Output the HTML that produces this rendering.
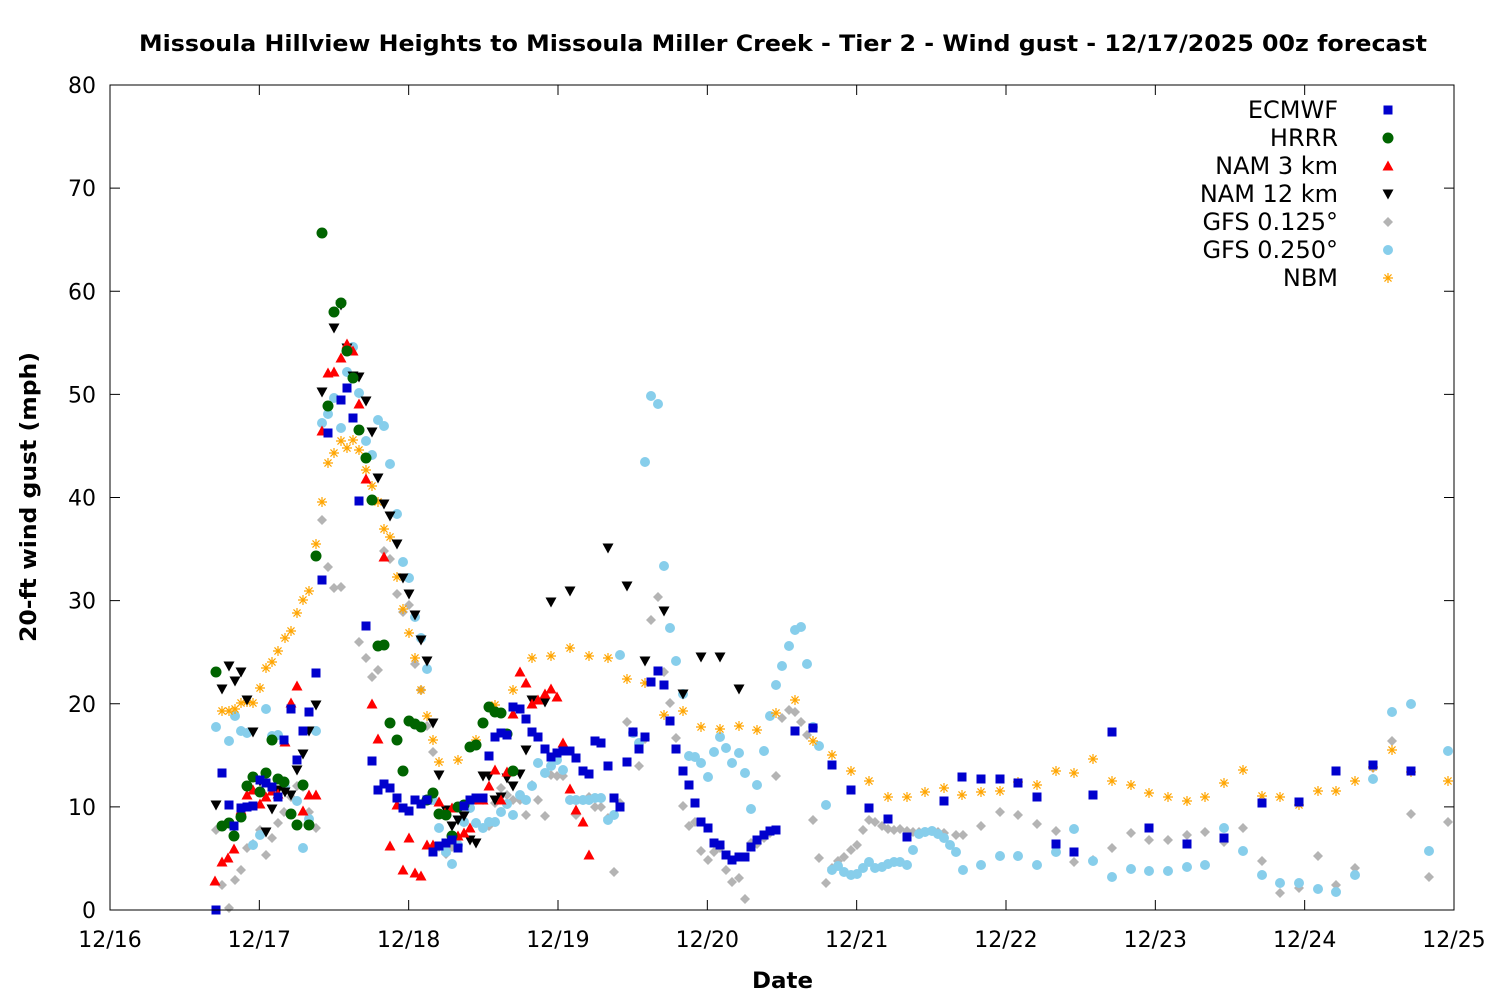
<!DOCTYPE html>
<html><head><meta charset="utf-8"><style>body{margin:0;background:#fff}svg text{font-family:"DejaVu Sans","Liberation Sans",sans-serif}</style></head>
<body>
<svg id="s" width="1500" height="1000" xmlns="http://www.w3.org/2000/svg">
<rect width="1500" height="1000" fill="#fff"/>
<text x="139" y="51" textLength="1288" lengthAdjust="spacingAndGlyphs" font-size="22" font-weight="bold">Missoula Hillview Heights to Missoula Miller Creek - Tier 2 - Wind gust - 12/17/2025 00z forecast</text>
<text transform="translate(36,642) rotate(-90)" textLength="290" lengthAdjust="spacingAndGlyphs" font-size="22" font-weight="bold">20-ft wind gust (mph)</text>
<text x="752" y="988" textLength="61" lengthAdjust="spacingAndGlyphs" font-size="22" font-weight="bold">Date</text>
<g id="ax"></g><g id="pts"></g><g id="leg"></g>
<rect x="110" y="85" width="1344" height="825" fill="none" stroke="#000" stroke-width="1"/>
</svg>
<script>
var NS="http://www.w3.org/2000/svg",ax=document.getElementById('ax'),P=document.getElementById('pts'),L=document.getElementById('leg');
function el(p,t,a,tx){var e=document.createElementNS(NS,t);for(var k in a)e.setAttribute(k,a[k]);if(tx)e.textContent=tx;p.appendChild(e);return e;}
for(var i=0;i<=8;i++){var y=910-i*103.125;el(ax,'line',{x1:110,x2:120,y1:y,y2:y,stroke:'#000'});el(ax,'line',{x1:1444,x2:1454,y1:y,y2:y,stroke:'#000'});el(ax,'text',{x:96,y:y+8,'text-anchor':'end','font-size':22},String(i*10));}
var d=['12/16','12/17','12/18','12/19','12/20','12/21','12/22','12/23','12/24','12/25'];
for(var i=0;i<=9;i++){var x=110+i*149.333;el(ax,'line',{x1:x,x2:x,y1:900,y2:910,stroke:'#000'});el(ax,'line',{x1:x,x2:x,y1:85,y2:95,stroke:'#000'});el(ax,'text',{x:x,y:947,'text-anchor':'middle','font-size':22},d[i]);}
function mk(g,t,x,y,c){
 if(t=='sq')el(g,'rect',{x:x-4.5,y:y-4.5,width:9,height:9,fill:c});
 else if(t=='ci')el(g,'circle',{cx:x,cy:y,r:5.5,fill:c});
 else if(t=='tu')el(g,'polygon',{points:(x-5.5)+','+(y+4.5)+' '+(x+5.5)+','+(y+4.5)+' '+x+','+(y-5.5),fill:c});
 else if(t=='td')el(g,'polygon',{points:(x-5.5)+','+(y-4.5)+' '+(x+5.5)+','+(y-4.5)+' '+x+','+(y+5.5),fill:c});
 else if(t=='di')el(g,'polygon',{points:x+','+(y-5)+' '+(x+5)+','+y+' '+x+','+(y+5)+' '+(x-5)+','+y,fill:c});
 else if(t=='pe')el(g,'circle',{cx:x,cy:y,r:5,fill:c});
 else {var s='';for(var k=0;k<4;k++){var a=k*Math.PI/4;s+='M'+(x-5*Math.cos(a))+','+(y-5*Math.sin(a))+'L'+(x+5*Math.cos(a))+','+(y+5*Math.sin(a));}el(g,'path',{d:s,stroke:c,'stroke-width':1.2,fill:'none'});}
}
var S=[
['GFS 0.125°','di','#b4b4b4',[216,830,222,885,229,908,235,880,241,870,247,848,253,844,260,830,266,855,272,838,278,823,284,812,291,797,297,786,303,787,309,812,316,828,322,520,328,567,334,588,341,587,359,642,366,658,372,677,378,670,384,551,390,559,397,594,403,612,409,605,415,664,421,690,427,726,433,752,439,847,446,854,452,847,458,845,464,813,470,807,476,800,483,800,489,826,495,803,501,788,507,795,513,800,520,800,526,815,532,785,538,800,545,816,551,775,557,776,563,776,570,800,576,815,583,800,589,797,595,807,601,807,608,818,614,872,620,803,627,722,633,732,639,766,645,739,651,620,658,597,664,672,670,703,676,738,683,806,689,826,695,822,701,851,708,860,714,852,720,848,726,870,732,882,739,878,745,899,751,843,757,844,764,838,770,833,776,776,782,718,789,710,795,712,801,722,807,735,813,820,819,858,826,883,832,868,838,861,844,857,851,850,857,845,863,830,869,820,875,822,882,826,888,829,894,830,900,829,907,831,913,832,919,832,925,832,932,831,938,832,944,833,956,835,963,835,981,826,1000,812,1018,815,1037,824,1056,831,1074,862,1093,860,1112,848,1131,833,1149,840,1168,840,1187,835,1205,832,1224,842,1243,828,1262,861,1280,893,1299,888,1318,856,1336,885,1355,868,1373,768,1392,741,1411,814,1429,877,1448,822]],
['GFS 0.250°','pe','#87ceeb',[216,727,229,741,235,716,241,731,247,733,253,845,260,835,266,709,272,736,278,735,285,787,291,814,297,801,303,848,309,819,316,731,322,423,328,414,334,398,341,428,347,372,353,347,359,393,366,441,372,455,378,420,384,426,390,464,397,514,403,562,409,578,415,617,421,638,427,669,433,800,439,828,446,852,452,864,458,845,464,822,470,808,476,823,483,828,489,822,495,822,501,812,507,804,513,815,520,795,526,800,532,786,538,763,545,773,551,766,557,760,563,770,570,800,576,800,583,800,589,800,595,798,601,798,608,820,614,815,620,655,633,733,639,743,645,462,651,396,658,404,664,566,670,628,676,661,683,694,689,756,695,757,701,763,708,777,714,752,720,737,726,748,732,763,739,753,745,773,751,809,757,785,764,751,770,716,776,685,782,666,789,646,795,630,801,627,807,664,813,727,819,746,826,805,832,870,838,866,844,872,851,875,857,874,863,868,869,862,875,868,882,867,888,864,894,862,900,862,907,865,913,850,919,834,925,832,932,831,938,834,944,838,950,845,956,852,963,870,981,865,1000,856,1018,856,1037,865,1056,852,1074,829,1093,861,1112,877,1131,869,1149,871,1168,871,1187,867,1205,865,1224,828,1243,851,1262,875,1280,883,1299,883,1318,889,1336,892,1355,875,1373,779,1392,712,1411,704,1429,851,1448,751]],
['NBM','as','#ffa500',[222,711,229,711,235,709,241,703,247,702,253,703,260,688,266,668,272,662,278,651,285,638,291,631,297,613,303,600,309,591,316,544,322,502,328,463,334,453,341,441,347,448,353,440,359,450,366,470,372,486,378,502,384,529,390,537,397,577,403,609,409,633,415,658,421,690,427,716,433,740,439,762,458,760,476,740,495,705,513,690,532,658,551,656,570,648,589,656,608,658,627,679,645,683,664,715,683,711,701,727,720,729,739,726,757,730,776,713,795,700,813,741,832,755,851,771,869,781,888,797,907,797,925,792,944,788,962,795,981,792,1000,791,1018,782,1037,785,1056,771,1074,773,1093,759,1112,781,1131,785,1149,793,1168,797,1187,801,1205,797,1224,783,1243,770,1262,796,1280,797,1299,805,1318,791,1336,791,1355,781,1373,767,1392,750,1411,772,1448,781]],
['NAM 12 km','td','#000',[216,805,222,689,229,666,235,681,241,672,247,700,253,732,260,781,266,832,272,809,278,790,285,792,291,795,297,770,303,754,309,731,316,705,322,392,334,328,341,305,347,348,353,376,359,377,366,401,372,432,378,478,384,504,390,516,397,544,403,578,409,594,415,615,421,640,427,661,433,723,439,775,446,810,452,826,458,820,464,816,470,840,476,843,483,776,489,776,495,800,501,797,507,778,513,786,520,774,526,750,532,700,545,702,551,602,570,591,608,548,627,586,645,661,664,611,683,694,701,657,720,657,739,689]],
['NAM 3 km','tu','#f00',[215,881,222,862,228,858,234,849,241,810,247,795,253,790,260,804,266,797,272,791,278,794,285,742,291,703,297,686,303,811,309,795,316,795,322,431,328,373,334,372,341,358,347,344,353,351,359,404,366,479,372,704,378,739,384,557,390,846,397,805,403,870,409,838,415,873,421,876,427,845,433,845,439,802,445,813,452,808,458,836,464,833,470,828,476,800,483,800,489,786,495,770,501,800,507,772,513,714,520,672,526,683,532,704,538,700,545,694,551,689,557,697,563,743,570,789,576,810,583,822,589,855]],
['HRRR','ci','#006400',[216,672,222,826,229,823,234,836,241,817,247,786,253,777,260,792,266,773,272,740,278,779,284,782,291,814,297,825,303,785,309,825,316,556,322,233,328,406,334,312,341,303,347,351,353,378,359,430,366,458,372,500,378,646,384,645,390,723,397,740,403,771,409,721,415,724,421,727,427,800,433,793,439,814,446,815,452,836,458,807,464,805,470,747,476,745,483,723,489,707,495,712,501,713,507,734,513,771]],
['ECMWF','sq','#0000cd',[216,910,222,773,229,805,234,826,241,808,247,807,253,806,260,780,266,783,272,787,278,797,284,740,291,709,297,760,303,731,309,712,316,673,322,580,328,433,341,400,347,388,353,418,359,501,366,626,372,761,378,790,384,784,390,788,397,798,403,808,409,811,415,800,421,804,427,800,433,852,439,846,446,843,452,840,458,848,464,806,470,800,476,798,483,798,489,756,495,737,501,733,507,735,513,707,520,709,526,719,532,732,538,737,545,749,551,757,557,753,563,751,570,751,576,758,583,771,589,774,595,741,601,743,608,766,614,798,620,807,627,762,633,732,639,749,645,737,651,682,658,671,664,685,670,721,676,749,683,771,689,785,695,803,701,822,708,828,714,843,720,845,726,855,732,860,739,857,745,857,751,847,757,840,764,835,770,831,776,830,795,731,813,728,832,765,851,790,869,808,888,819,907,837,944,801,962,777,981,779,1000,779,1018,783,1037,797,1056,844,1074,852,1093,795,1112,732,1149,828,1187,844,1224,838,1262,803,1299,802,1336,771,1373,765,1411,771]]
];
S.forEach(function(s){var a=s[3];for(var i=0;i<a.length;i+=2)mk(P,s[1],a[i],a[i+1],s[2]);});
var order=['ECMWF','HRRR','NAM 3 km','NAM 12 km','GFS 0.125°','GFS 0.250°','NBM'];
order.forEach(function(n,i){var s=S.filter(function(z){return z[0]==n})[0];var y=110+i*28;el(L,'text',{x:1338,y:y+8,'text-anchor':'end','font-size':24},n);mk(L,s[1],1388,y,s[2]);});
</script>
</body></html>
